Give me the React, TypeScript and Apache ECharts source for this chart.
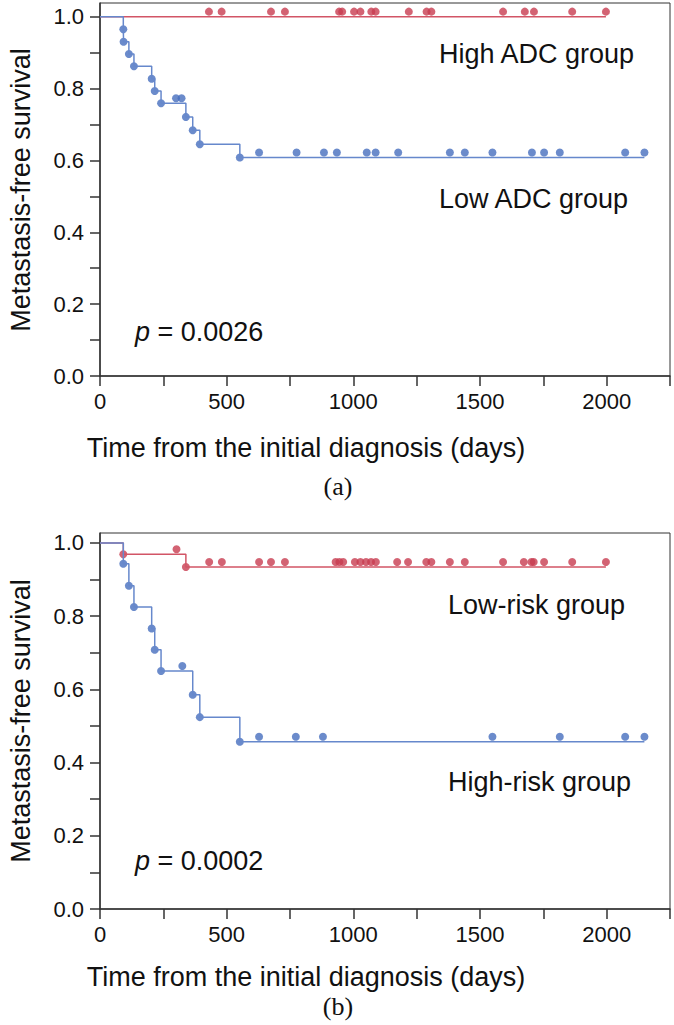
import React, { useEffect, useRef } from "react";
import * as echarts from "echarts";

// ---------- tick labels ----------
const xTickLabels = [0, 500, 1000, 1500, 2000];
const yTickLabels = [0.0, 0.2, 0.4, 0.6, 0.8, 1.0];

// ---------- panel (a) ----------
const lowAdcEventDays = [92, 93, 114, 134, 204, 216, 241, 339, 366, 394, 552];
const lowAdcEventSurv = [0.965, 0.93, 0.896, 0.862, 0.827, 0.793, 0.759, 0.721, 0.684, 0.645, 0.608];
const lowAdcCensorDays = [300, 322, 628, 776, 884, 935, 1053, 1088, 1177, 1381, 1440, 1549, 1705, 1753, 1815, 2073, 2149];
const lowAdcLastDay = 2149;

const highAdcEventDays: number[] = [];
const highAdcEventSurv: number[] = [];
const highAdcCensorDays = [430, 480, 675, 730, 944, 956, 1003, 1028, 1071, 1088, 1219, 1289, 1308, 1591, 1677, 1713, 1864, 1997];
const highAdcLastDay = 1997;

// ---------- panel (b) ----------
const highRiskEventDays = [92, 114, 134, 204, 216, 241, 366, 394, 552];
const highRiskEventSurv = [0.943, 0.883, 0.825, 0.766, 0.708, 0.65, 0.585, 0.524, 0.457];
const highRiskCensorDays = [325, 628, 773, 880, 1549, 1815, 2073, 2149];
const highRiskLastDay = 2149;

const lowRiskEventDays = [92, 339];
const lowRiskEventSurv = [0.969, 0.934];
const lowRiskCensorDays = [302, 431, 481, 628, 675, 730, 930, 945, 960, 1006, 1028, 1050, 1070, 1089, 1173, 1216, 1288, 1308, 1381, 1440, 1591, 1673, 1703, 1712, 1753, 1864, 1997];
const lowRiskLastDay = 1997;

const FONT = "'Liberation Sans', Arial, Helvetica, sans-serif";
const SERIF = "'Liberation Serif', 'Times New Roman', serif";
const BLUE_DOT = "#466ebe";
const BLUE_LINE = "#6688cc";
const RED_DOT = "#c83c50";
const RED_LINE = "#d25566";

function survAt(days: number[], surv: number[], t: number) {
  let s = 1;
  for (let i = 0; i < days.length; i++) if (days[i] <= t) s = surv[i];
  return s;
}

function groupSeries(
  gi: number,
  days: number[],
  surv: number[],
  censor: number[],
  last: number,
  dot: string,
  line: string
) {
  const stepData = [[0, 1], ...days.map((d, i) => [d, surv[i]]), [last, survAt(days, surv, last)]];
  return [
    {
      type: "line",
      xAxisIndex: gi,
      yAxisIndex: gi,
      step: "end",
      data: stepData,
      showSymbol: false,
      symbol: "none",
      lineStyle: { color: line, width: 1.5 },
      silent: true,
    },
    {
      type: "scatter",
      xAxisIndex: gi,
      yAxisIndex: gi,
      data: days.map((d, i) => [d, surv[i]]),
      symbolSize: 8,
      itemStyle: { color: dot },
      silent: true,
    },
    {
      type: "scatter",
      xAxisIndex: gi,
      yAxisIndex: gi,
      data: censor.map((d) => [d, survAt(days, surv, d)]),
      symbolSize: 8,
      symbolOffset: [0, -5],
      itemStyle: { color: dot },
      silent: true,
    },
  ];
}

const axisLineStyle = { color: "#333", width: 1.5 };

function xAxisCfg(gi: number) {
  return {
    type: "value",
    gridIndex: gi,
    min: 0,
    max: 2250,
    interval: 250,
    axisLine: { show: true, onZero: false, lineStyle: axisLineStyle },
    axisTick: { show: true, inside: false, length: 10, lineStyle: axisLineStyle },
    axisLabel: {
      show: true,
      margin: 14,
      fontSize: 22,
      fontFamily: FONT,
      color: "#111",
      formatter: (v: number) => (xTickLabels.some((t) => Math.abs(t - v) < 1e-6) ? String(v) : ""),
    },
    splitLine: { show: false },
  };
}

function yAxisCfg(gi: number, max: number) {
  return {
    type: "value",
    gridIndex: gi,
    min: 0,
    max,
    interval: 0.1,
    axisLine: { show: true, onZero: false, lineStyle: axisLineStyle },
    axisTick: { show: true, inside: false, length: 10, lineStyle: axisLineStyle },
    axisLabel: {
      show: true,
      margin: 16,
      fontSize: 22,
      fontFamily: FONT,
      color: "#111",
      showMaxLabel: false,
      formatter: (v: number) => {
        const t = yTickLabels.find((y) => Math.abs(y - v) < 1e-6);
        return t === undefined ? "" : t.toFixed(1);
      },
    },
    splitLine: { show: false },
  };
}

function txt(x: number, y: number, text: string, opts: any = {}) {
  return {
    type: "text",
    x,
    y,
    rotation: opts.rotation || 0,
    silent: true,
    style: {
      text,
      font: opts.font || `27px ${FONT}`,
      fill: "#111",
      textAlign: opts.align || "left",
      textVerticalAlign: "middle",
      rich: opts.rich,
    },
  };
}

const pRich = { i: { fontStyle: "italic", fontSize: 27, fontFamily: FONT, fill: "#111", color: "#111" } };

export default function App() {
  const ref = useRef<HTMLDivElement>(null);
  useEffect(() => {
    if (!ref.current) return;
    const chart = echarts.init(ref.current, null, { renderer: "svg" });
    chart.setOption({
      animation: false,
      backgroundColor: "#fff",
      grid: [
        { left: 100, top: 3, width: 570, height: 373, show: true, borderColor: "#333", borderWidth: 1, backgroundColor: "transparent" },
        { left: 100, top: 533, width: 570, height: 376, show: true, borderColor: "#333", borderWidth: 1, backgroundColor: "transparent" },
      ],
      xAxis: [xAxisCfg(0), xAxisCfg(1)],
      yAxis: [yAxisCfg(0, 1.038), yAxisCfg(1, 1.027)],
      series: [
        ...groupSeries(0, highAdcEventDays, highAdcEventSurv, highAdcCensorDays, highAdcLastDay, RED_DOT, RED_LINE),
        ...groupSeries(0, lowAdcEventDays, lowAdcEventSurv, lowAdcCensorDays, lowAdcLastDay, BLUE_DOT, BLUE_LINE),
        ...groupSeries(1, lowRiskEventDays, lowRiskEventSurv, lowRiskCensorDays, lowRiskLastDay, RED_DOT, RED_LINE),
        ...groupSeries(1, highRiskEventDays, highRiskEventSurv, highRiskCensorDays, highRiskLastDay, BLUE_DOT, BLUE_LINE),
      ],
      graphic: [
        txt(21, 190, "Metastasis-free survival", { rotation: Math.PI / 2, align: "center" }),
        txt(21, 721, "Metastasis-free survival", { rotation: Math.PI / 2, align: "center" }),
        txt(439, 54, "High ADC group"),
        txt(439, 199, "Low ADC group"),
        txt(135, 332, "{i|p} = 0.0026", { rich: pRich }),
        txt(448, 605, "Low-risk group"),
        txt(448, 782, "High-risk group"),
        txt(135, 861, "{i|p} = 0.0002", { rich: pRich }),
        txt(306, 448, "Time from the initial diagnosis (days)", { align: "center" }),
        txt(338, 486, "(a)", { align: "center", font: `26px ${SERIF}` }),
        txt(306, 977, "Time from the initial diagnosis (days)", { align: "center" }),
        txt(338, 1006, "(b)", { align: "center", font: `26px ${SERIF}` }),
      ],
    });
    return () => chart.dispose();
  }, []);
  return <div ref={ref} style={{ position: "absolute", left: 0, top: 0, width: 674, height: 1025 }} />;
}
